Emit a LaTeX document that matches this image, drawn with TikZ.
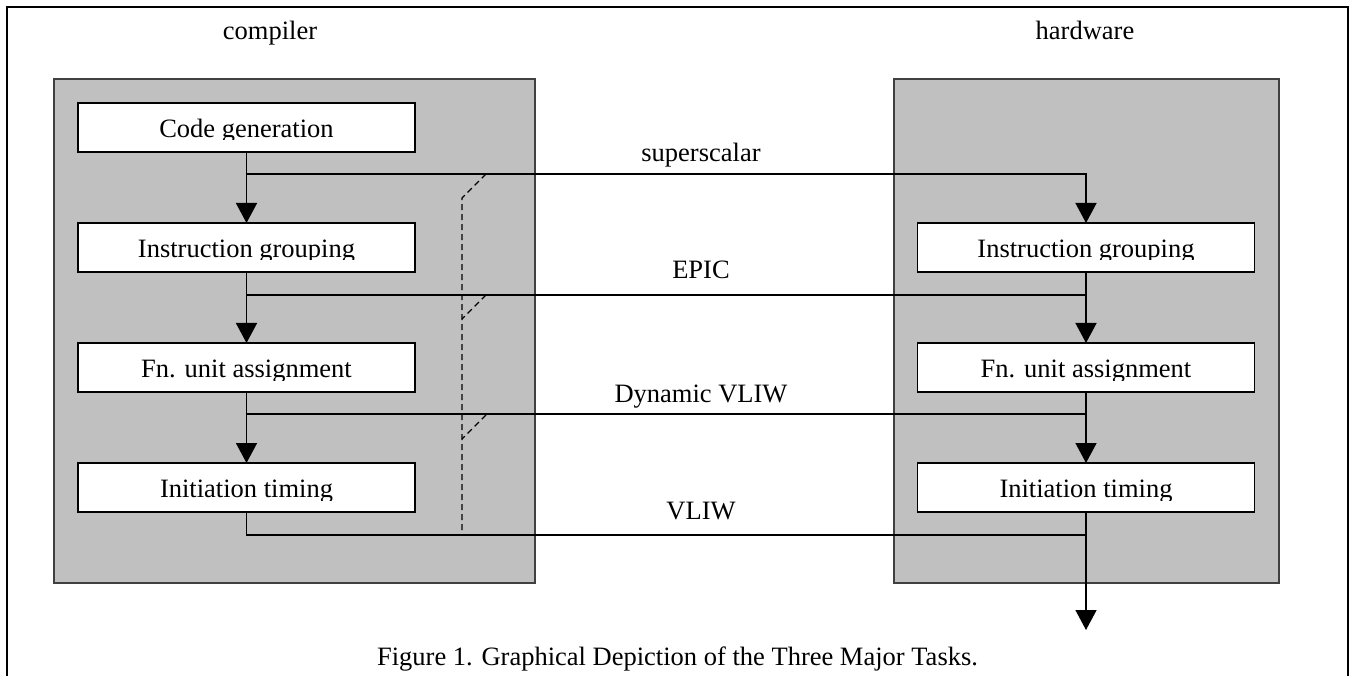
\documentclass[tikz,border=0pt]{standalone}
\usepackage{fontspec}
\setmainfont{Liberation Serif}
\usetikzlibrary{arrows.meta,calc}
\definecolor{panelgray}{RGB}{192,192,192}

% a task box: frame node plus its label, whose descenders are trimmed
\newcommand\taskbox[4]{%
  \node[stagebox] (#1) at (#2,#3) {};
  \begin{scope}
    \clip (#1.north west) rectangle ($(#1.east)+(0,12.5)$);
    \node[stagetext] (#1t) at ($(#1.center)+(0,10)$) {#4};
  \end{scope}}

\begin{document}
\begin{tikzpicture}[x=1pt,y=-1pt,
  every node/.style={font=\fontsize{26.5}{30}\selectfont},
  panel/.style={draw=black!75,line width=1.2pt,fill=panelgray},
  stagebox/.style={draw=black,line width=1.7pt,fill=white,minimum width=337pt,
    minimum height=49pt,inner sep=0pt,outer sep=0pt},
  stagetext/.style={anchor=base,inner sep=0pt},
  lbl/.style={anchor=base,inner sep=0pt},
  flow/.style={line width=1.5pt,-{Triangle[length=20pt,width=21pt]}},
  wire/.style={line width=1.5pt},
  bypass/.style={line width=1.3pt,dash pattern=on 6pt off 4pt},
]
\useasboundingbox (0,0) rectangle (1352,676);

% open frame around the figure
\draw[line width=2pt] (7,676) -- (7,7) -- (1348,7) -- (1348,676);

% compiler and hardware panels
\draw[panel] (54,79) rectangle (535,583);
\draw[panel] (894,79) rectangle (1279,583);
\node[lbl] (tcomp) at (270,40) {compiler};
\node[lbl] (thw) at (1085,40) {hardware};

% junction points of the four paths
\coordinate (s1) at (246.5,174);
\coordinate (e1) at (246.5,295);
\coordinate (e2) at (1086,295);
\coordinate (d1) at (246.5,414);
\coordinate (d2) at (1086,414);
\coordinate (v2) at (1086,535);
\coordinate (out) at (1086,630);

% dashed compiler/hardware boundary
\coordinate (b0) at (486,174);
\coordinate (b1) at (462,198);
\coordinate (b2) at (462,535);
\coordinate (b3) at (486,295);
\coordinate (b4) at (462,319);
\coordinate (b5) at (486,415);
\coordinate (b6) at (462,439);

% compiler tasks
\taskbox{c1}{246.5}{127.5}{Code generation}
\taskbox{c2}{246.5}{247.5}{Instruction grouping}
\taskbox{c3}{246.5}{367.5}{Fn. unit assignment}
\taskbox{c4}{246.5}{487.5}{Initiation timing}

% hardware tasks
\taskbox{h2}{1086}{247.5}{Instruction grouping}
\taskbox{h3}{1086}{367.5}{Fn. unit assignment}
\taskbox{h4}{1086}{487.5}{Initiation timing}

% compiler flow
\draw[flow] (c1) -- (c2);
\draw[flow] (c2) -- (c3);
\draw[flow] (c3) -- (c4);

% hardware flow
\draw[flow] (h2) -- (h3);
\draw[flow] (h3) -- (h4);
\draw[flow] (h4) -- (out);

% hand-over paths
\draw[flow] (s1) -| (h2);
\draw[wire] (e1) -- (e2);
\draw[wire] (d1) -- (d2);
\draw[wire] (c4) |- (v2);

\draw[bypass] (b0) -- (b1) -- (b2);
\draw[bypass] (b3) -- (b4);
\draw[bypass] (b5) -- (b6);

% path labels
\node[lbl] (lsup) at (701,162) {superscalar};
\node[lbl] (lepic) at (701,279) {EPIC};
\node[lbl] (ldyn) at (701,402) {Dynamic VLIW};
\node[lbl] (lvliw) at (701,519) {VLIW};

% caption
\node[lbl] (cap) at (677.5,665) {Figure 1. Graphical Depiction of the Three Major Tasks.};
\end{tikzpicture}
\end{document}
